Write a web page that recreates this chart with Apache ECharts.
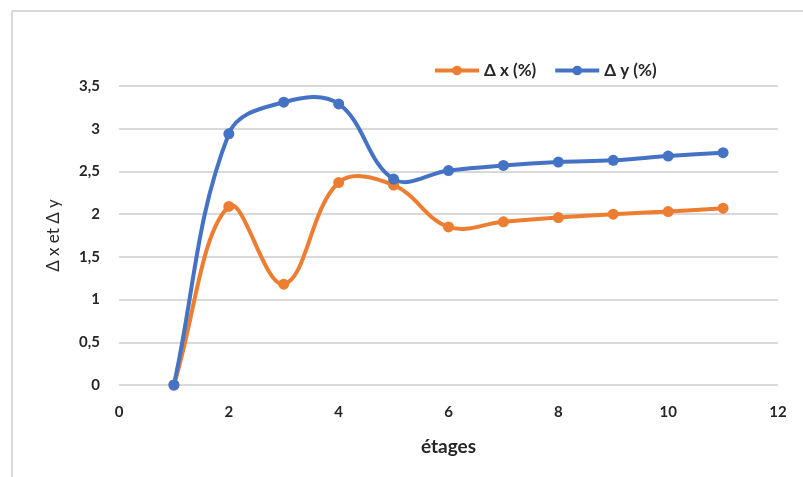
<!DOCTYPE html>
<html>
<head>
<meta charset="utf-8">
<script src="https://cdn.jsdelivr.net/npm/echarts@6/dist/echarts.min.js"></script>
<style>
  html, body { margin: 0; padding: 0; background: #fff; }
  #chart { width: 803px; height: 477px; }
</style>
</head>
<body>
<div id="chart"></div>
<script>
// Storeys (étages) and drift ratios in percent
const etages = [1, 2, 3, 4, 5, 6, 7, 8, 9, 10, 11];
const deltaX = [0, 2.09, 1.18, 2.37, 2.34, 1.85, 1.91, 1.96, 2.00, 2.03, 2.07];
const deltaY = [0, 2.94, 3.31, 3.29, 2.41, 2.51, 2.57, 2.61, 2.63, 2.68, 2.72];
const seriesNames = ['\u0394 x (%)', '\u0394 y (%)'];
const colors = ['#ED7D31', '#4472C4'];

const FONT = 'Lato, "Open Sans", sans-serif';
const TEXT = '#262626';
const pairs = (xs, ys) => xs.map((x, i) => [x, ys[i]]);
const comma = v => String(v).replace('.', ',');

// handle length factor for the smoothed curves
const TENSION = 0.38;

const chart = echarts.init(document.getElementById('chart'), null, { renderer: 'canvas' });

// Smoothed curve through the points: cubic Bézier segments whose tangent at each
// point follows the neighbouring chord, with handle lengths proportional to the
// adjacent chord lengths (keeps short segments from overshooting).
function curveSeries(values, color) {
  const data = pairs(etages, values);
  const n = data.length;
  const dist = (a, b) => Math.hypot(b[0] - a[0], b[1] - a[1]);
  return {
    type: 'custom',
    silent: true,
    data,
    encode: { x: 0, y: 1 },
    renderItem(params, api) {
      const i = params.dataIndex;
      if (i >= n - 1) return null;
      const p = k => api.coord(data[Math.max(0, Math.min(n - 1, k))]);
      const p0 = p(i - 1), p1 = p(i), p2 = p(i + 1), p3 = p(i + 2);
      // outgoing handle at p1
      const a0 = dist(p0, p1), a1 = dist(p1, p2);
      const fa = a1 / (a0 + a1) * TENSION;
      // incoming handle at p2
      const b0 = dist(p1, p2), b1 = dist(p2, p3);
      const fb = b0 / (b0 + b1) * TENSION;
      return {
        type: 'bezierCurve',
        shape: {
          x1: p1[0], y1: p1[1],
          x2: p2[0], y2: p2[1],
          cpx1: p1[0] + (p2[0] - p0[0]) * fa,
          cpy1: p1[1] + (p2[1] - p0[1]) * fa,
          cpx2: p2[0] - (p3[0] - p1[0]) * fb,
          cpy2: p2[1] - (p3[1] - p1[1]) * fb
        },
        style: { stroke: color, lineWidth: 4, fill: null, lineCap: 'round' }
      };
    }
  };
}

// Markers (and legend entry) for each series
const markerSeries = (name, values, color) => ({
  name,
  type: 'line',
  data: pairs(etages, values),
  symbol: 'circle',
  symbolSize: 11,
  lineStyle: { width: 0, opacity: 0, color },
  itemStyle: { color },
  emphasis: { disabled: true }
});

chart.setOption({
  animation: false,
  backgroundColor: '#fff',
  graphic: [
    // chart frame (top and left edges)
    { type: 'line', shape: { x1: 12, y1: 11, x2: 803, y2: 11 }, style: { stroke: '#d9d9d9', lineWidth: 2 } },
    { type: 'line', shape: { x1: 12, y1: 11, x2: 12, y2: 477 }, style: { stroke: '#d9d9d9', lineWidth: 2 } }
  ],
  legend: {
    top: 57,
    left: 428,
    itemWidth: 44,
    itemHeight: 12,
    itemGap: 17,
    data: seriesNames.map((name, i) => ({
      name,
      lineStyle: { width: 4, color: colors[i], opacity: 1 },
      itemStyle: { color: colors[i] }
    })),
    textStyle: { fontFamily: FONT, fontWeight: 'bold', fontSize: 17, color: TEXT }
  },
  grid: { left: 119, right: 25, top: 86, bottom: 92 },
  xAxis: {
    type: 'value',
    min: 0, max: 12, interval: 2,
    name: '\u00e9tages',
    nameLocation: 'middle',
    nameGap: 52,
    nameTextStyle: { fontFamily: FONT, fontWeight: 'bold', fontSize: 19, color: TEXT },
    axisLine: { show: false },
    axisTick: { show: false },
    splitLine: { show: false },
    axisLabel: { margin: 20, fontFamily: FONT, fontWeight: 'bold', fontSize: 15, color: TEXT }
  },
  yAxis: {
    type: 'value',
    min: 0, max: 3.5, interval: 0.5,
    name: '\u0394 x et \u0394 y',
    nameLocation: 'middle',
    nameGap: 57,
    nameTextStyle: { fontFamily: FONT, fontSize: 17, color: TEXT },
    axisLine: { show: false },
    axisTick: { show: false },
    splitLine: { lineStyle: { color: '#d9d9d9', width: 2 } },
    axisLabel: { margin: 19, fontFamily: FONT, fontWeight: 'bold', fontSize: 15, color: TEXT, formatter: comma }
  },
  series: [
    curveSeries(deltaX, colors[0]),
    markerSeries(seriesNames[0], deltaX, colors[0]),
    curveSeries(deltaY, colors[1]),
    markerSeries(seriesNames[1], deltaY, colors[1])
  ]
});
</script>
</body>
</html>
